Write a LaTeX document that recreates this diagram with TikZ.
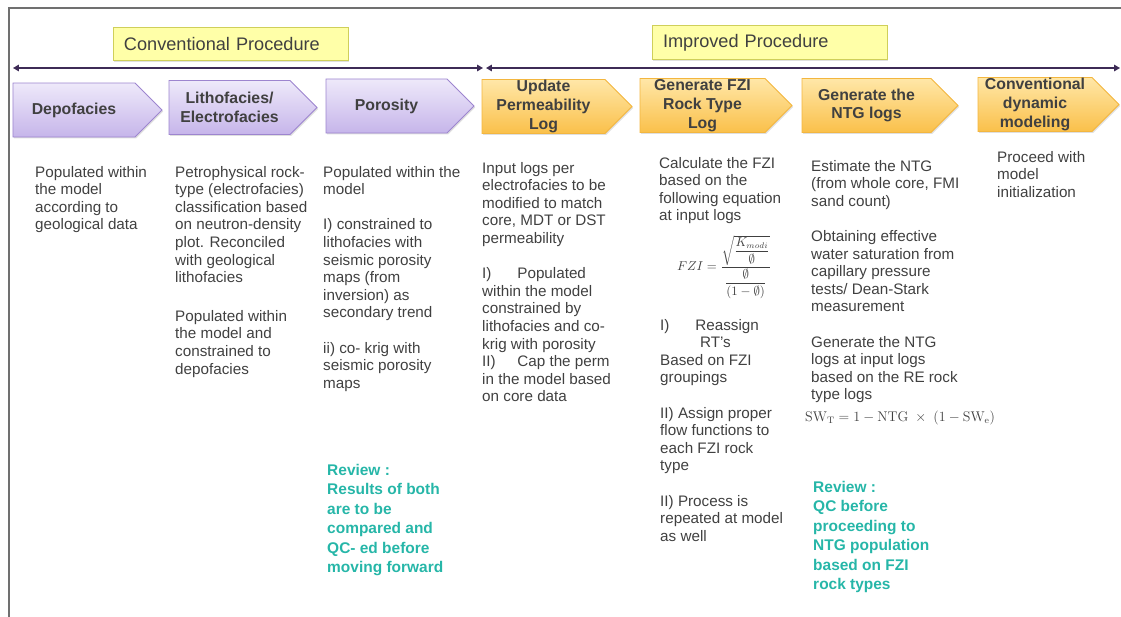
\documentclass[tikz,border=0pt]{standalone}
\usepackage{amssymb}
\usepackage{amsmath}
\usepackage[no-math]{fontspec}
\setmainfont{Liberation Sans}
\usepackage{tikz}
\usepackage{xcolor}
\usetikzlibrary{positioning,shapes.symbols,arrows.meta,shadows}

\definecolor{txtgray}{RGB}{64,64,64}
\definecolor{revteal}{RGB}{38,182,168}
\definecolor{purptop}{RGB}{238,233,250}
\definecolor{purpbot}{RGB}{198,181,234}
\definecolor{purpbord}{RGB}{157,133,207}
\definecolor{ortop}{RGB}{255,231,168}
\definecolor{orbot}{RGB}{250,192,74}
\definecolor{orbord}{RGB}{243,182,63}
\definecolor{titfill}{RGB}{255,255,168}
\definecolor{titbord}{RGB}{207,207,90}
\definecolor{arrpurp}{RGB}{61,43,86}
\definecolor{framegray}{RGB}{112,112,112}

\newcommand{\bodyfont}{\fontsize{13}{15}\selectfont}
\newcommand{\headfont}{\fontsize{13.5}{16}\selectfont\bfseries}
\newcommand{\revfont}{\fontsize{13.2}{16.6}\selectfont\bfseries}
\newcommand{\titfont}{\fontsize{15.5}{18}\selectfont}
\newcommand{\tabI}[1]{\makebox[30pt][l]{#1}}

\begin{document}
\begin{tikzpicture}
[
x=0.03cm, y=-0.03cm,
step-p/.style={signal, signal to=east, signal pointer angle=90, draw=purpbord, line width=0.8pt,
  top color=purptop, bottom color=purpbot, minimum width=4.44cm, minimum height=1.62cm,
  inner xsep=1pt, inner ysep=0pt, font=\headfont, text=txtgray, align=center,
  drop shadow={shadow xshift=1pt, shadow yshift=-1.2pt, opacity=0.25}},
step-o/.style={step-p, draw=orbord, top color=ortop, bottom color=orbot},
title-a/.style={draw=titbord, fill=titfill, line width=0.8pt, minimum height=1.01cm,
  text width=6.39cm, inner xsep=3.3mm, align=left, font=\titfont, text=txtgray,
  drop shadow={shadow xshift=1pt, shadow yshift=-1.2pt, opacity=0.25}},
text-a/.style={anchor=north west, inner sep=0pt, align=left, font=\bodyfont, text=txtgray},
text-r/.style={anchor=north west, inner sep=0pt, align=left, font=\revfont, text=revteal},
arr-a/.style={{Triangle[length=5pt,width=5.5pt]}-{Triangle[length=5pt,width=5.5pt]}, draw=arrpurp, line width=1.1pt}
]
\useasboundingbox (0,0) rectangle (1121,617);
\draw [framegray, line width=1.2pt] (1121,8) -- (9,8) -- (9,617);

% procedure titles and span arrows
\node (conv-title) [title-a] at (230.5,44)  {Conventional Procedure};
\node (impr-title) [title-a] at (769.5,42.5) {Improved Procedure};
\coordinate (conv-l) at (13,68);
\coordinate (conv-r) at (483,68);
\coordinate (impr-l) at (486,68);
\coordinate (impr-r) at (1120,68);
\draw [arr-a] (conv-l) -- (conv-r);
\draw [arr-a] (impr-l) -- (impr-r);

% steps
\node (step-depo)  [step-p, minimum width=4.47cm] at (74,110)     {Depofacies};
\node (step-litho) [step-p]                       at (229.5,107.5) {Lithofacies/\\Electrofacies};
\node (step-poro)  [step-p]                       at (386.5,106)   {Porosity};
\node (step-perm)  [step-o, minimum width=4.5cm]  at (543.5,106.5) {Update\\Permeability\\Log};
\node (step-fzi)   [step-o, minimum width=4.56cm] at (702.5,105.5) {Generate FZI\\Rock Type\\Log};
\node (step-ntg)   [step-o, minimum width=4.68cm] at (866.5,105.5) {Generate the\\NTG logs};
\node (step-dyn)   [step-o, minimum width=4.23cm] at (1035,104.5)  {Conventional\\dynamic\\modeling};

% descriptions
\node (txt-depo)  [text-a] at (35,166)  {Populated within\\the model\\according to\\geological data};
\node (txt-litho) [text-a] at (175,166) {Petrophysical rock-\\type (electrofacies)\\classification based\\on neutron-density\\plot. Reconciled\\with geological\\lithofacies\\[18pt]Populated within\\the model and\\constrained to\\depofacies};
\node (txt-poro)  [text-a] at (323,166) {Populated within the\\model\\[15pt]I) constrained to\\lithofacies with\\seismic porosity\\maps (from\\inversion) as\\secondary trend\\[15pt]ii) co- krig with\\seismic porosity\\maps};
\node (rev-poro)  [text-r] at (327,464) {Review :\\Results of both\\are to be\\compared and\\QC- ed before\\moving forward};
\node (txt-perm)  [text-a] at (482,162) {Input logs per\\electrofacies to be\\modified to match\\core, MDT or DST\\permeability\\[15pt]\tabI{I)}Populated\\within the model\\constrained by\\lithofacies and co-\\krig with porosity\\\tabI{II)}Cap the perm\\in the model based\\on core data};
\node (txt-fzi)   [text-a] at (659,157) {Calculate the FZI\\based on the\\following equation\\at input logs};
\node (eq-fzi)    [inner sep=0pt, text=txtgray, font=\fontsize{10.5}{12}\selectfont] at (724,267)
  {$\displaystyle FZI=\frac{\sqrt{\dfrac{K_{modi}}{\emptyset}}}{\dfrac{\emptyset}{(1-\emptyset)}}$};
\node (txt-fzi-b) [text-a] at (660,319) {\tabI{I)}Reassign\\\hspace*{34pt}RT's\\Based on FZI\\groupings\\[15pt]II) Assign proper\\flow functions to\\each FZI rock\\type\\[15pt]II) Process is\\repeated at model\\as well};
\node (txt-ntg)   [text-a] at (811,160) {Estimate the NTG\\(from whole core, FMI\\sand count)\\[15pt]Obtaining effective\\water saturation from\\capillary pressure\\tests/ Dean-Stark\\measurement\\[15pt]Generate the NTG\\logs at input logs\\based on the RE rock\\type logs};
\node (eq-sw)     [anchor=west, inner sep=0pt, text=txtgray, font=\fontsize{12}{14}\selectfont] at (805,418)
  {$\mathrm{SW_T}=1-\mathrm{NTG}\ \times\ (1-\mathrm{SW_e})$};
\node (rev-ntg)   [text-r] at (813,481) {Review :\\QC before\\proceeding to\\NTG population\\based on FZI\\rock types};
\node (txt-dyn)   [text-a] at (997,151) {Proceed with\\model\\initialization};
\end{tikzpicture}
\end{document}
